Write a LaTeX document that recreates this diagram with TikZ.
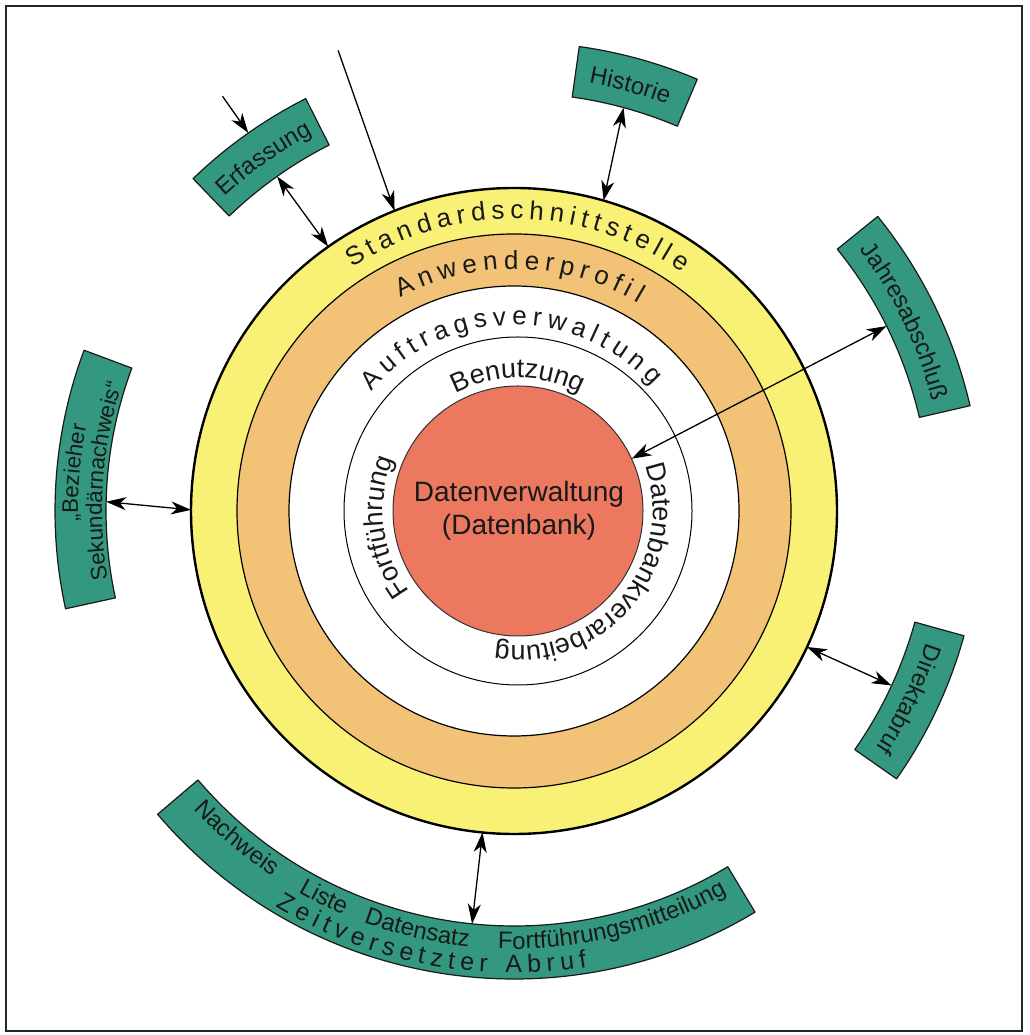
\documentclass[tikz,border=0pt]{standalone}
\usepackage{fontspec}
\setmainfont{Liberation Sans}
\usetikzlibrary{calc,arrows.meta}
\definecolor{ringyellow}{RGB}{249,241,118}
\definecolor{ringorange}{RGB}{242,194,118}
\definecolor{corered}{RGB}{235,120,95}
\definecolor{boxteal}{RGB}{52,152,128}
\definecolor{inkdark}{RGB}{24,26,26}
\newdimen\arcw
\newcommand\arcfont{\fontsize{26}{30}\selectfont}
\newcommand\measurech[1]{%
  \pgfinterruptpicture\setbox0=\hbox{\arcfont #1}\global\arcw=\wd0\relax\endpgfinterruptpicture
  \pgfmathsetmacro\wv{\the\arcw}}
% \arctext{center}{radius}{center angle}{extra spacing}{dir: 1 cw, -1 ccw}{chars}
\newcommand\arctext[6]{%
  \gdef\arctot{0}\gdef\arcnum{0}%
  \foreach \ch in {#6}{%
    \measurech{\ch}%
    \pgfmathsetmacro\tmpv{\arctot+\wv}\xdef\arctot{\tmpv}%
    \pgfmathsetmacro\tmpv{\arcnum+1}\xdef\arcnum{\tmpv}%
  }%
  \pgfmathsetmacro\arctotal{\arctot+(\arcnum-1)*(#4)}%
  \xdef\arctotal{\arctotal}%
  \gdef\arcpos{0}%
  \foreach \ch in {#6}{%
    \measurech{\ch}%
    \pgfmathsetmacro\ang{#3+(#5)*(\arctotal/2-\arcpos-\wv/2)/(#2)*180/pi}%
    \pgfmathsetmacro\rot{\ang-90*(#5)}%
    \node[glyph, rotate=\rot] at ($(#1)+(\ang:#2pt)$) {\ch};
    \pgfmathsetmacro\tmpv{\arcpos+\wv+(#4)}\xdef\arcpos{\tmpv}%
  }%
}
% \sector{a1}{a2}{r1}{r2}
\newcommand\sector[4]{%
  \draw[boxst] ($(O)+(#1:#3pt)$) arc[start angle=#1, end angle=#2, radius=#3pt]
    -- ($(O)+(#2:#4pt)$) arc[start angle=#2, end angle=#1, radius=#4pt] -- cycle;
}
\begin{document}
\begin{tikzpicture}[x=1pt,y=1pt,
  glyph/.style={anchor=base, inner sep=0pt, outer sep=0pt, font=\arcfont, text=inkdark},
  boxst/.style={fill=boxteal, draw=inkdark, line width=1.2pt, line join=round},
  ringline/.style={draw=black, line width=1.2pt},
  tipst/.style={},
  arr/.style={draw=black, line width=1.3pt, {Stealth[length=20pt,width=13pt,inset=6pt]}-{Stealth[length=20pt,width=13pt,inset=6pt]}},
  arrone/.style={draw=black, line width=1.3pt, -{Stealth[length=20pt,width=13pt,inset=6pt]}}]
\useasboundingbox (0,0) rectangle (1029,1035);
\fill[white] (0,0) rectangle (1029,1035);
\draw[black!85, line width=1.2pt] (6,4) rectangle (1022,1029);

\coordinate (O) at (514,524);
\coordinate (O2) at (518,524);

% rings
\draw[fill=ringyellow, draw=black, line width=2.4pt] (O) circle[radius=323pt];
\draw[fill=ringorange, ringline] (O) circle[radius=277pt];
\draw[fill=white, ringline] (O) circle[radius=225pt];
\draw[ringline, line width=1pt] (O2) circle[radius=174pt];
\draw[fill=corered, draw=black!80, line width=1pt] (O2) circle[radius=125pt];

% core text
\node[anchor=base, font=\fontsize{28}{32}\selectfont, text=inkdark] (dv1) at (519,533) {Datenverwaltung};
\node[anchor=base, font=\fontsize{28}{32}\selectfont, text=inkdark] (dv2) at (519,500) {(Datenbank)};

% ring texts
\renewcommand\arcfont{\fontsize{26}{30}\selectfont}
\arctext{O}{292}{89.2}{5.5}{1}{S,t,a,n,d,a,r,d,s,c,h,n,i,t,t,s,t,e,l,l,e}
\arctext{O}{242}{88.6}{5.8}{1}{A,n,w,e,n,d,e,r,p,r,o,f,i,l}
\arctext{O}{186}{91}{5.6}{1}{A,u,f,t,r,a,g,s,v,e,r,w,a,l,t,u,n,g}
\renewcommand\arcfont{\fontsize{27}{30}\selectfont}
\arctext{O2}{133}{90}{0}{1}{B,e,n,u,t,z,u,n,g}
\arctext{O2}{135}{187}{0}{1}{F,o,r,t,f,ü,h,r,u,n,g}
\arctext{O2}{135}{-40}{0}{1}{D,a,t,e,n,b,a,n,k,v,e,r,a,r,b,e,i,t,u,n,g}

% boxes
\sector{67}{82}{418}{469}
\sector{116.8}{134}{410}{462}
\sector{13}{39}{416}{468}
\sector{-35}{-15.5}{416}{467}
\sector{159.5}{192.3}{408}{459}
\sector{-139.6}{-59}{415}{468}

\renewcommand\arcfont{\fontsize{24}{28}\selectfont}
\arctext{O}{434.5}{74.7}{0}{1}{H,i,s,t,o,r,i,e}
\arctext{O}{427}{125.4}{0}{1}{E,r,f,a,s,s,u,n,g}
\arctext{O}{433}{25.9}{0}{1}{J,a,h,r,e,s,a,b,s,c,h,l,u,ß}
\arctext{O}{432.5}{-25.5}{0}{1}{D,i,r,e,k,t,a,b,r,u,f}
\arctext{O}{438}{-130.3}{0}{-1}{N,a,c,h,w,e,i,s}
\arctext{O}{438}{-116.2}{0}{-1}{L,i,s,t,e}
\arctext{O}{438}{-103}{0}{-1}{D,a,t,e,n,s,a,t,z}
\arctext{O}{438}{-76.5}{0}{-1}{F,o,r,t,f,ü,h,r,u,n,g,s,m,i,t,t,e,i,l,u,n,g}
\renewcommand\arcfont{\fontsize{25}{28}\selectfont}
\arctext{O}{462}{-101}{5.6}{-1}{Z,e,i,t,v,e,r,s,e,t,z,t,e,r,~,A,b,r,u,f}
\renewcommand\arcfont{\fontsize{22.5}{26}\selectfont}
\arctext{O}{436}{175.0}{0}{1}{„,B,e,z,i,e,h,e,r}
\arctext{O}{412}{175.8}{0}{1}{S,e,k,u,n,d,ä,r,n,a,c,h,w,e,i,s,“}

% connector end points
\coordinate (erfsrc) at ($(O)+(125.1:507pt)$);
\coordinate (erfout) at ($(O)+(125.1:462pt)$);
\coordinate (erfin) at ($(O)+(125.3:410pt)$);
\coordinate (ringerf) at ($(O)+(125.1:323pt)$);
\coordinate (topsrc) at ($(O)+(110.9:493pt)$);
\coordinate (ringtop) at ($(O)+(111.7:323pt)$);
\coordinate (histin) at ($(O)+(74.8:418pt)$);
\coordinate (ringhist) at ($(O)+(73.9:323pt)$);
\coordinate (jahrin) at ($(O)+(26.4:416pt)$);
\coordinate (corejahr) at ($(O2)+(24.7:125pt)$);
\coordinate (bezin) at ($(O)+(178.7:408pt)$);
\coordinate (ringbez) at ($(O)+(179.8:323pt)$);
\coordinate (dirin) at ($(O)+(-24.8:416pt)$);
\coordinate (ringdir) at ($(O)+(-24.9:323pt)$);
\coordinate (botin) at ($(O)+(-95.8:415pt)$);
\coordinate (ringbot) at ($(O)+(-95.6:323pt)$);

\draw[arrone] (erfsrc) -- (erfout);
\draw[arrone] (topsrc) -- (ringtop);
\draw[arr] (erfin) -- (ringerf);
\draw[arr] (histin) -- (ringhist);
\draw[arr] (jahrin) -- (corejahr);
\draw[arr] (bezin) -- (ringbez);
\draw[arr] (dirin) -- (ringdir);
\draw[arr] (botin) -- (ringbot);
\end{tikzpicture}
\end{document}
